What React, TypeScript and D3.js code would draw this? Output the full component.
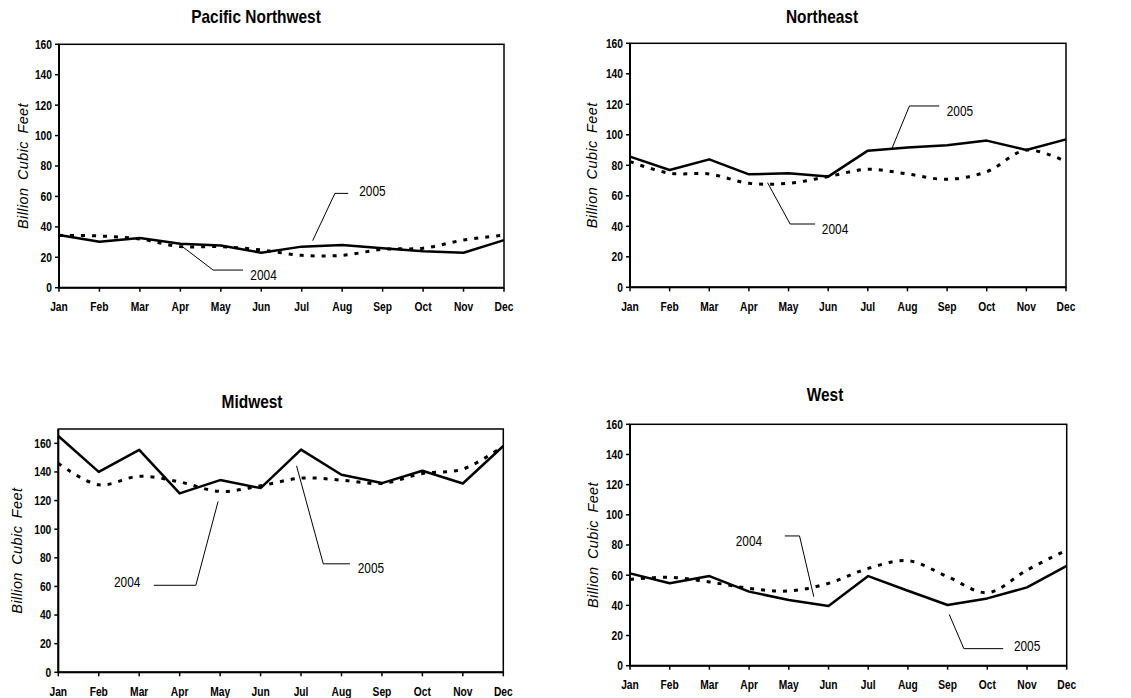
import React from "react";
import * as d3 from "d3";

const MONTHS = ["Jan", "Feb", "Mar", "Apr", "May", "Jun", "Jul", "Aug", "Sep", "Oct", "Nov", "Dec"];
const Y_TICKS = [0, 20, 40, 60, 80, 100, 120, 140, 160];

const pnw2004 = [34.4, 34, 32, 27, 27, 24.8, 21.3, 21.3, 25.2, 26, 31.3, 34.6];
const pnw2005 = [34.6, 30.2, 32.7, 28.9, 27.8, 23, 27, 28, 26, 24, 23, 31.3];
const ne2004 = [82.4, 74.8, 74.3, 68.2, 68.2, 72.6, 77.4, 74.3, 70.8, 75.8, 90, 82.4];
const ne2005 = [85.7, 76.9, 83.9, 74.1, 74.8, 72.6, 89.6, 91.6, 93.1, 96.2, 90, 97];
const mw2004 = [146, 131, 137, 133, 126.4, 130.3, 135.7, 134.3, 132, 138.9, 142, 158];
const mw2005 = [165.1, 140, 155.4, 125, 134.3, 128.7, 155.6, 138, 132.2, 140.8, 131.9, 158.1];
const w2004 = [57.2, 58.6, 55.5, 51.3, 49.5, 54.6, 64.5, 69.6, 59, 48.4, 63.4, 76.7];
const w2005 = [61.2, 54.6, 59.4, 49.1, 43.5, 39.6, 59.4, 49.7, 40.2, 44.6, 51.9, 66.1];

// callouts, in data units (month index, value)
const pnwNotes = [
  { label: "2005", pts: [[6.27, 30.9], [6.82, 62], [7.15, 62]], at: [7.42, 63.8], anchor: "start" },
  { label: "2004", pts: [[3.05, 27], [3.81, 11.6], [4.55, 11.6]], at: [4.73, 8.3], anchor: "start" },
];
const neNotes = [
  { label: "2005", pts: [[6.6, 90.5], [7.05, 118.9], [7.8, 118.9]], at: [7.99, 115.8], anchor: "start" },
  { label: "2004", pts: [[3.47, 68.6], [4.04, 41.5], [4.67, 41.5]], at: [4.84, 38], anchor: "start" },
];
const mwNotes = [
  { label: "2004", pts: [[3.95, 119.4], [3.4, 60.8], [2.36, 60.8]], at: [2.03, 63], anchor: "end" },
  { label: "2005", pts: [[5.89, 144.2], [6.55, 75.8], [7.21, 75.8]], at: [7.4, 72.8], anchor: "start" },
];
const wNotes = [
  { label: "2004", pts: [[4.63, 45.7], [4.27, 86], [3.9, 86]], at: [3.33, 82.9], anchor: "end" },
  { label: "2005", pts: [[8.04, 34], [8.41, 11.3], [9.4, 11.3]], at: [9.67, 13], anchor: "start" },
];

const SANS = "'Liberation Sans', Arial, sans-serif";

// no Arial Narrow here, so squeeze the regular face
const Narrow = ({ x, y, anchor = "middle", size, bold = false, squeeze = 0.82, children }) => (
  <text
    transform={`translate(${x},${y}) scale(${squeeze},1)`}
    dy="0.35em"
    textAnchor={anchor}
    fontFamily={SANS}
    fontWeight={bold ? "bold" : "normal"}
    fontSize={size}
  >
    {children}
  </text>
);

const Panel = ({ title, d04, d05, notes, yMax, box, titleAt, yLabelX }) => {
  const x = d3.scaleLinear().domain([0, 11]).range([box.x0, box.x1]);
  const y = d3.scaleLinear().domain([0, yMax]).range([box.y1, box.y0]);

  const solid = d3.line<number>().x((d, i) => x(i)).y((d) => y(d));
  const smooth = d3
    .line<number>()
    .x((d, i) => x(i))
    .y((d) => y(d))
    .curve(d3.curveCatmullRom.alpha(0.5));
  const leader = d3.line<number[]>().x((d) => x(d[0])).y((d) => y(d[1]));
  const midY = (box.y0 + box.y1) / 2;

  return (
    <g>
      <Narrow x={titleAt[0]} y={titleAt[1]} size={18} bold squeeze={0.86}>
        {title}
      </Narrow>
      <rect
        x={box.x0}
        y={box.y0}
        width={box.x1 - box.x0}
        height={box.y1 - box.y0}
        fill="none"
        stroke="#000"
        strokeWidth={1.5}
      />
      <line x1={box.x0} x2={box.x0} y1={box.y0} y2={box.y1} stroke="#000" strokeWidth={2} />
      <line x1={box.x0} x2={box.x1} y1={box.y1} y2={box.y1} stroke="#000" strokeWidth={2} />
      {Y_TICKS.map((t) => (
        <g key={t}>
          <line x1={box.x0 - 4} x2={box.x0} y1={y(t)} y2={y(t)} stroke="#000" strokeWidth={1.5} />
          <Narrow x={box.x0 - 7} y={y(t)} anchor="end" size={12.5} bold>
            {t}
          </Narrow>
        </g>
      ))}
      {MONTHS.map((m, i) => (
        <g key={m}>
          <line x1={x(i)} x2={x(i)} y1={box.y1} y2={box.y1 + 4} stroke="#000" strokeWidth={1.5} />
          <Narrow x={x(i)} y={box.y1 + 19} size={12.5} bold>
            {m}
          </Narrow>
        </g>
      ))}
      <text
        transform={`translate(${yLabelX},${midY}) rotate(-90)`}
        textAnchor="middle"
        dy="0.35em"
        fontFamily={SANS}
        fontStyle="italic"
        fontSize={14.5}
        letterSpacing={0.4}
        wordSpacing={3}
      >
        Billion Cubic Feet
      </text>
      <path d={smooth(d04)} fill="none" stroke="#000" strokeWidth={3} strokeDasharray="4,7" />
      <path d={solid(d05)} fill="none" stroke="#000" strokeWidth={2.5} strokeLinejoin="round" />
      {notes.map((n) => (
        <g key={n.label}>
          <path d={leader(n.pts)} fill="none" stroke="#000" strokeWidth={1} />
          <Narrow x={x(n.at[0])} y={y(n.at[1])} anchor={n.anchor} size={14.5}>
            {n.label}
          </Narrow>
        </g>
      ))}
    </g>
  );
};

export default function App() {
  return (
    <svg
      width={1131}
      height={698}
      style={{ position: "absolute", left: 0, top: 0, background: "#fff" }}
    >
      <Panel
        title="Pacific Northwest"
        d04={pnw2004}
        d05={pnw2005}
        notes={pnwNotes}
        yMax={160}
        box={{ x0: 59, x1: 504, y0: 44.3, y1: 287.7 }}
        titleAt={[256, 17]}
        yLabelX={23}
      />
      <Panel
        title="Northeast"
        d04={ne2004}
        d05={ne2005}
        notes={neNotes}
        yMax={160}
        box={{ x0: 630, x1: 1066, y0: 43.3, y1: 287.3 }}
        titleAt={[822, 17]}
        yLabelX={592}
      />
      <Panel
        title="Midwest"
        d04={mw2004}
        d05={mw2005}
        notes={mwNotes}
        yMax={170}
        box={{ x0: 58.3, x1: 503.3, y0: 429, y1: 672.3 }}
        titleAt={[252, 402]}
        yLabelX={17}
      />
      <Panel
        title="West"
        d04={w2004}
        d05={w2005}
        notes={wNotes}
        yMax={160}
        box={{ x0: 630, x1: 1066.7, y0: 424.3, y1: 665.7 }}
        titleAt={[825, 395]}
        yLabelX={593}
      />
    </svg>
  );
}
